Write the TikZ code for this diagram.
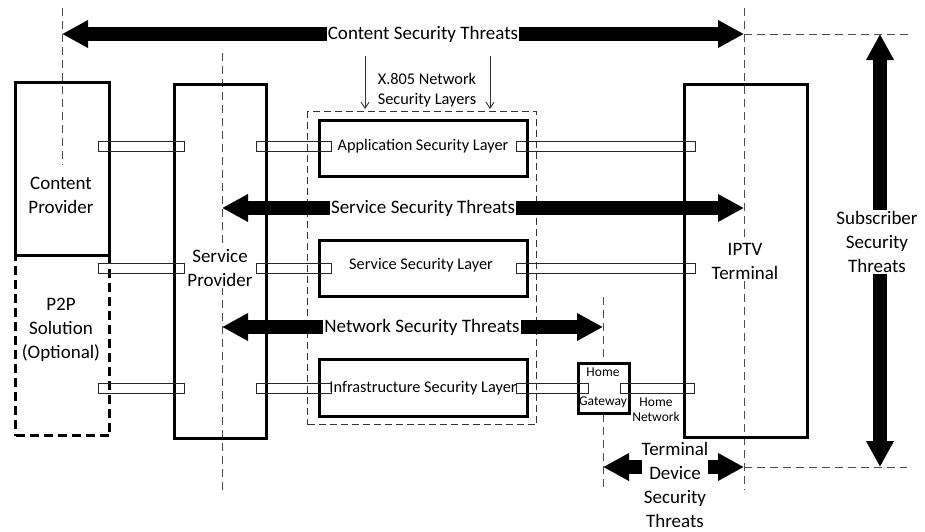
\documentclass[tikz,border=0pt]{standalone}
\usepackage{fontspec}
\setmainfont{Carlito}
\usetikzlibrary{arrows.meta,calc}
\begin{document}
\begin{tikzpicture}[x=1pt,y=-1pt,
  box/.style={draw=black,line width=3pt,inner sep=0pt,anchor=north west},
  dbox/.style={draw=black,line width=3pt,dash pattern=on 9pt off 5pt,inner sep=0pt,anchor=north west},
  tbox/.style={draw=black!80,line width=1pt,dash pattern=on 7pt off 4pt,inner sep=0pt,anchor=north west},
  dashline/.style={draw=black!70,line width=1pt,dash pattern=on 8pt off 5pt},
  bar/.style={draw=black!85,line width=0.9pt,inner sep=0pt,minimum height=10pt},
  big/.style={font=\fontsize{19}{24}\selectfont,align=center,inner sep=1pt},
  small/.style={font=\fontsize{16.3}{20}\selectfont,align=center,inner sep=1pt},
  tiny/.style={font=\fontsize{13.5}{15}\selectfont,align=center,inner sep=0.5pt},
  fatboth/.style={line width=14pt,{Triangle[width=26pt,length=26pt]}-{Triangle[width=26pt,length=26pt]}},
  thinarrow/.style={draw=black!80,line width=0.9pt,-{Straight Barb[length=6pt,width=8pt]}},
]
\useasboundingbox (0,0) rectangle (925,531);

% dashed guide lines
\coordinate (g1t) at (62,8);    \coordinate (g1b) at (62,165);
\coordinate (g2t) at (222,53);  \coordinate (g2b) at (222,490);
\coordinate (g3t) at (744,8);   \coordinate (g3b) at (744,490);
\coordinate (g4t) at (603,297); \coordinate (g4b) at (603,490);
\coordinate (h1l) at (744,34);  \coordinate (h1r) at (910,34);
\coordinate (h2l) at (744,467); \coordinate (h2r) at (907,467);
\draw[dashline] (g1t) -- (g1b);
\draw[dashline] (g2t) -- (g2b);
\draw[dashline] (g3t) -- (g3b);
\draw[dashline] (g4t) -- (g4b);
\draw[dashline] (h1l) -- (h1r);
\draw[dashline] (h2l) -- (h2r);

% boxes
\node[dbox,minimum width=94pt,minimum height=180pt] (p2p) at (14,254) {};
\node[box,minimum width=94pt,minimum height=173pt] (cp) at (14,81) {};
\node[box,minimum width=92pt,minimum height=354pt] (sp) at (173,83) {};
\node[tbox,minimum width=229pt,minimum height=313pt] (x805) at (307,111) {};
\node[box,minimum width=208pt,minimum height=56pt] (app) at (318,119) {};
\node[box,minimum width=208pt,minimum height=56pt] (ssl) at (318,239) {};
\node[box,minimum width=208pt,minimum height=57pt] (isl) at (318,358) {};
\node[box,minimum width=123pt,minimum height=353pt] (iptv) at (683,83) {};
\node[box,fill=white,minimum width=51pt,minimum height=50pt] (hg) at (577,362) {};

% connector bars
\foreach \y/\r in {146/a,268/b,388/c}{
  \node[bar,minimum width=86pt] (b1\r) at (141,\y) {};
  \node[bar,minimum width=75pt] (b2\r) at (293.5,\y) {};
}
\node[bar,minimum width=179pt] (b3a) at (605.5,146) {};
\node[bar,minimum width=179pt] (b3b) at (605.5,268) {};
\node[bar,minimum width=72pt] (b3c) at (552,388) {};
\node[bar,minimum width=74pt] (b4c) at (657,388) {};

% X.805 arrows
\coordinate (xa1) at (365,56); \coordinate (xa2) at (365,109);
\coordinate (xb1) at (490,56); \coordinate (xb2) at (490,109);
\draw[thinarrow] (xa1) -- (xa2);
\draw[thinarrow] (xb1) -- (xb2);

% big arrows
\coordinate (c1) at (62,34);   \coordinate (c2) at (744,34);
\coordinate (s1) at (222,208); \coordinate (s2) at (744,208);
\coordinate (n1) at (222,327); \coordinate (n2) at (603,327);
\coordinate (t1) at (603,467); \coordinate (t2) at (744,467);
\coordinate (u1) at (880,34);  \coordinate (u2) at (880,467);
\draw[fatboth] (c1) -- (c2);
\draw[fatboth] (s1) -- (s2);
\draw[fatboth] (n1) -- (n2);
\draw[fatboth] (t1) -- (t2);
\draw[fatboth] (u1) -- (u2);

% labels
\node[big,fill=white] (lc) at (423,34) {Content Security Threats};
\node[big,fill=white] (ls) at (423,208) {Service Security Threats};
\node[big,fill=white] (ln) at (422,327) {Network Security Threats};
\node[big,fill=white,inner sep=0pt] (lt) at (675,485) {Terminal\\Device\\Security\\Threats};
\node[big,fill=white] (lu) at (877,242) {Subscriber\\Security\\Threats};
\node[big] (lcp) at (61,195) {Content\\Provider};
\node[big] (lp2p) at (61,330) {P2P\\Solution\\(Optional)};
\node[big,fill=white] (lsp) at (220,268) {Service\\Provider};
\node[big,fill=white] (liptv) at (745,261) {IPTV\\Terminal};
\node[small] (lx) at (427,90) {X.805 Network\\Security Layers};
\node[small] (lapp) at (423,146) {Application Security Layer};
\node[small] (lssl) at (421,265) {Service Security Layer};
\node[small] (lisl) at (423,388) {Infrastructure Security Layer};
\node[tiny] (lhg1) at (603,372) {Home};
\node[tiny] (lhg2) at (603,402) {Gateway};
\node[tiny] (lhn) at (656,410) {Home\\Network};
\end{tikzpicture}
\end{document}
